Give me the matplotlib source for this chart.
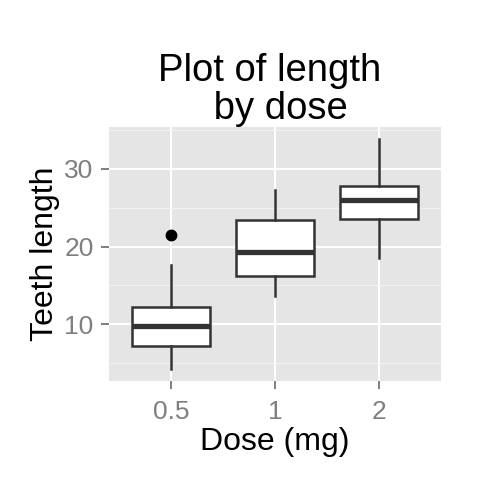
import matplotlib
matplotlib.use("Agg")
import matplotlib.pyplot as plt

plt.rcParams['font.family'] = ['Liberation Sans', 'DejaVu Sans']

# ToothGrowth summary by dose
doses = ["0.5", "1", "2"]
q1 = [7.225, 16.25, 23.525]
median = [9.85, 19.25, 25.95]
q3 = [12.25, 23.375, 27.825]
whisker_lo = [4.2, 13.6, 18.5]
whisker_hi = [17.6, 27.3, 33.9]
outliers = [[21.5], [], []]

stats = []
for i in range(len(doses)):
    stats.append(dict(med=median[i], q1=q1[i], q3=q3[i],
                      whislo=whisker_lo[i], whishi=whisker_hi[i],
                      fliers=outliers[i], label=doses[i]))

fig = plt.figure(figsize=(4.8, 4.8), dpi=100)
ax = fig.add_axes([109/480, 1-381/480, 332/480, 254/480])
ax.set_facecolor('#E5E5E5')

pos = [1, 2, 3]
edge = '#333333'
ax.bxp(stats, positions=pos, widths=0.75, patch_artist=True, showcaps=False,
       boxprops=dict(facecolor='white', edgecolor=edge, linewidth=1.8),
       medianprops=dict(color=edge, linewidth=3.8, solid_capstyle='butt'),
       whiskerprops=dict(color=edge, linewidth=1.8),
       flierprops=dict(marker='o', markerfacecolor='black', markeredgecolor='black',
                       markersize=7.5),
       zorder=3)

ax.set_xlim(0.4, 3.6)
ax.set_ylim(2.715, 35.385)
ax.set_yticks([10, 20, 30])
ax.set_yticks([5, 15, 25, 35], minor=True)
ax.set_xticks(pos)
ax.set_xticklabels(doses)

ax.grid(which='major', color='white', linewidth=1.4, zorder=0)
ax.grid(which='minor', axis='y', color='#F2F2F2', linewidth=0.8, zorder=0)
ax.set_axisbelow(True)
for s in ax.spines.values():
    s.set_visible(False)

ax.tick_params(which='major', colors='#7F7F7F', labelsize=19, length=6, width=1.4)
ax.tick_params(axis='y', pad=5)
ax.tick_params(axis='x', pad=8)
ax.tick_params(which='minor', length=0)

ax.set_xlabel("Dose (mg)", fontsize=23, labelpad=2)
ax.set_ylabel("Teeth length", fontsize=23, labelpad=3)
ax.set_title("Plot of length \n by dose", fontsize=27.5, pad=6, linespacing=1.05)

fig.savefig("out.png", dpi=100)
